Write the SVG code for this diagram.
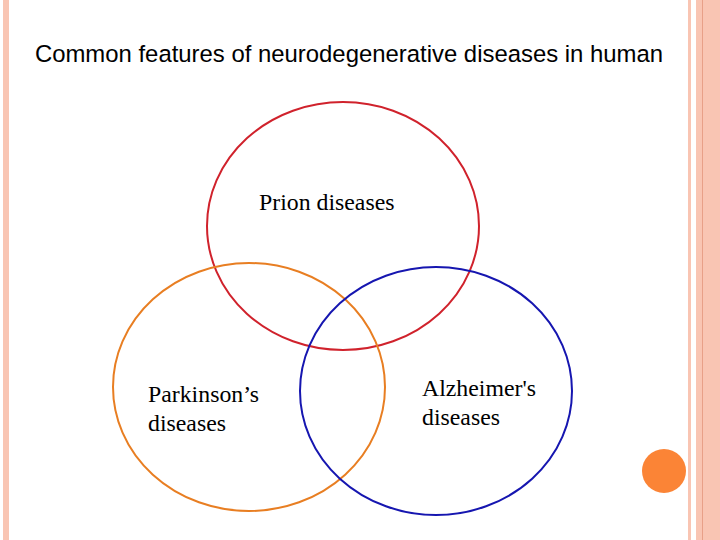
<svg xmlns="http://www.w3.org/2000/svg" width="720" height="540" viewBox="0 0 720 540">
<style>
.c{fill:none;stroke-width:2}
.t{font-family:"Liberation Serif",serif;font-size:23.8px;fill:#000}
</style>
<rect width="720" height="540" fill="#fff"/>
<rect x="3" y="0" width="6" height="540" fill="#f9c5b3"/>
<rect x="688" y="0" width="3" height="540" fill="#f9c5b3"/>
<rect x="696" y="0" width="24" height="540" fill="#f9c5b3"/>
<rect x="702" y="0" width="1" height="540" fill="#e8a088"/>
<circle cx="664" cy="471" r="22" fill="#fb8436"/>
<text x="349" y="62" text-anchor="middle" font-family="Liberation Sans,Arial,sans-serif" font-size="23.9">Common features of neurodegenerative diseases in human</text>
<g id="prion"><ellipse class="c" cx="343" cy="226" rx="136" ry="124" stroke="#d0222c"/><text class="t" x="259" y="210">Prion diseases</text></g>
<g id="parkinson"><ellipse class="c" cx="249" cy="387" rx="136" ry="124" stroke="#e87e22"/><text class="t" x="148" y="402">Parkinson’s</text><text class="t" x="148" y="431">diseases</text></g>
<g id="alzheimer"><ellipse class="c" cx="436" cy="391" rx="136" ry="124" stroke="#1616b0"/><text class="t" x="422" y="396">Alzheimer's</text><text class="t" x="422" y="425">diseases</text></g>
<g id="connectors"/>
</svg>
